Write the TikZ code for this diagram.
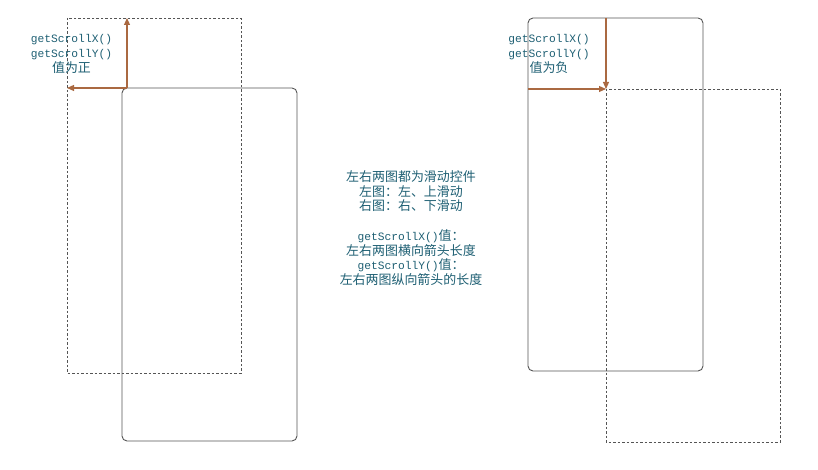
\documentclass[tikz,border=0pt]{standalone}
\usepackage{fontspec}
\setmainfont{Liberation Mono}
\newfontfamily\cjk{Noto Sans CJK SC}
\usetikzlibrary{arrows.meta}
\definecolor{txt}{RGB}{30,95,115}
\definecolor{arr}{RGB}{170,105,65}
\definecolor{frm}{RGB}{85,85,85}
\tikzset{
  solidbox/.style={draw=frm, line width=0.9bp, rounded corners=5bp},
  dashbox/.style={draw=frm, line width=0.9bp, dash pattern=on 2.5bp off 2bp},
  scrollarrow/.style={draw=arr, line width=1.1bp, -{Triangle[length=7bp,width=6bp]}},
  lbl/.style={text=txt, align=center, inner sep=0pt, font=\fontsize{11.3}{14.8}\selectfont}
}
\newcommand{\zh}[1]{{\cjk\fontsize{13}{14.8}\selectfont #1}}
\begin{document}
\begin{tikzpicture}[x=1bp,y=-1bp]
\useasboundingbox (0,0) rectangle (818,470);
% left
\coordinate (ldA) at (67,18);
\coordinate (ldB) at (241,373);
\coordinate (lsA) at (122,88);
\coordinate (lsB) at (297,441);
\coordinate (lo) at (127,88);
\coordinate (lup) at (127,18);
\coordinate (lleft) at (67,88);
\draw[dashbox] (ldA) rectangle (ldB);
\draw[solidbox] (lsA) rectangle (lsB);
\draw[scrollarrow] (lo) -- (lup);
\draw[scrollarrow] (lo) -- (lleft);
\node[lbl] (leftlabel) at (71.5,54) {getScrollX()\\getScrollY()\\\zh{值为正}};
% right
\coordinate (rsA) at (528,18);
\coordinate (rsB) at (703,371);
\coordinate (rdA) at (606,89);
\coordinate (rdB) at (780,442);
\coordinate (rtop) at (606,18);
\coordinate (rcorner) at (606,89);
\coordinate (rleft) at (528,89);
\draw[solidbox] (rsA) rectangle (rsB);
\draw[dashbox] (rdA) rectangle (rdB);
\draw[scrollarrow] (rtop) -- (rcorner);
\draw[scrollarrow] (rleft) -- (rcorner);
\node[lbl] (rightlabel) at (549,54) {getScrollX()\\getScrollY()\\\zh{值为负}};
% center
\node[lbl] (center) at (411,228) {\zh{左右两图都为滑动控件}\\\zh{左图：左、上滑动}\\\zh{右图：右、下滑动}\\[14.8bp]getScrollX()\zh{值：}\\\zh{左右两图横向箭头长度}\\getScrollY()\zh{值：}\\\zh{左右两图纵向箭头的长度}};
\end{tikzpicture}
\end{document}
